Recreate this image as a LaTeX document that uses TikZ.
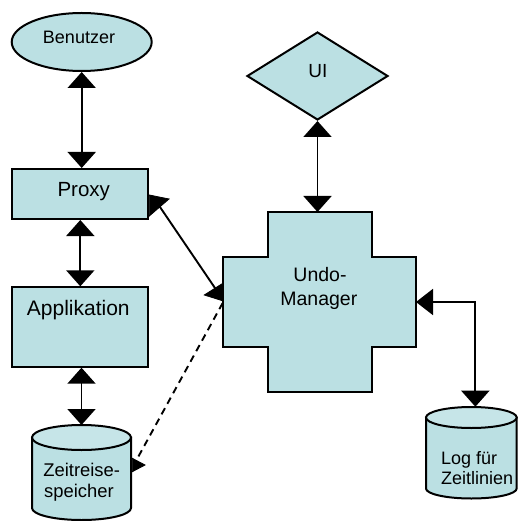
\documentclass[tikz,border=0pt]{standalone}
\usepackage{fontspec}
\setmainfont{Liberation Sans}
\usetikzlibrary{arrows.meta,shapes.geometric}

\definecolor{boxfill}{HTML}{BBE0E3}
\definecolor{capfill}{HTML}{C6E5E8}
\newcommand\fsz[1]{\fontsize{#1pt}{#1pt}\selectfont}

\tikzset{
  shapebox/.style={draw=black, fill=boxfill, line width=2pt},
  anchorbox/.style={rectangle, inner sep=0pt, outer sep=0pt},
  link/.style={line width=1.9pt, draw=black},
  BigTip/.tip={Triangle[width=28pt,length=16pt]},
  SideTip/.tip={Triangle[width=26pt,length=17pt]},
  label/.style={anchor=base, inner sep=0pt, text=black},
  headfill/.style={fill=black, draw=black, line width=0.8pt, line join=miter},
}

\begin{document}
\begin{tikzpicture}[x=1pt, y=-1pt]
\useasboundingbox (0,0) rectangle (517,521);

% --- shapes ---
\node[ellipse, shapebox, minimum width=140pt, minimum height=58pt, inner sep=0pt] (benutzer) at (81.7,42) {};
\node[rectangle, shapebox, minimum width=136pt, minimum height=50pt, inner sep=0pt] (proxy) at (80.3,194) {};
\node[rectangle, shapebox, minimum width=136pt, minimum height=79.4pt, inner sep=0pt] (appl) at (80.3,327) {};
\node[diamond, shapebox, minimum width=141pt, minimum height=88pt, inner sep=0pt] (ui) at (317.5,76) {};

% Undo-Manager: cross shape with an invisible box for anchors
\node[anchorbox, minimum width=193.3pt, minimum height=180pt] (undo) at (319.35,302) {};
\draw[shapebox] (267.7,212) -- (371.7,212) -- (371.7,257) -- (416,257) -- (416,347)
  -- (371.7,347) -- (371.7,392) -- (267.7,392) -- (267.7,347) -- (222.7,347)
  -- (222.7,257) -- (267.7,257) -- cycle;

% cylinders: body, then the lighter top ellipse
\node[anchorbox, minimum width=99pt, minimum height=95pt] (zeit) at (81.5,472.5) {};
\draw[shapebox] (32,437.5) -- (32,508) arc[start angle=180, end angle=360, x radius=49.5pt, y radius=12pt]
  -- (131,437.5) -- cycle;
\draw[shapebox, fill=capfill] (81.5,437.5) ellipse [x radius=49.5pt, y radius=12.5pt];

\node[anchorbox, minimum width=90.7pt, minimum height=91.6pt] (log) at (471.35,452.5) {};
\draw[shapebox] (426,417.5) -- (426,488.5) arc[start angle=180, end angle=360, x radius=45.35pt, y radius=10pt]
  -- (516.7,417.5) -- cycle;
\draw[shapebox, fill=capfill] (471.35,417.5) ellipse [x radius=45.35pt, y radius=10.5pt];

% --- texts ---
\node[label, font=\fsz{18}] (tbenutzer) at (79,43.3) {Benutzer};
\node[label, font=\fsz{20.5}] (tproxy) at (83.7,196.7) {Proxy};
\node[label, font=\fsz{21}] (tappl) at (78.3,315) {Applikation};
\node[label, font=\fsz{19}] (tui) at (317.8,78) {UI};
\node[label, font=\fsz{19.5}] (tundoa) at (320,281) {Undo-};
\node[label, font=\fsz{19.5}] (tundob) at (318.8,305.7) {Manager};
\node[label, font=\fsz{18.4}] (tzeita) at (81.7,476) {Zeitreise-};
\node[label, font=\fsz{18.4}] (tzeitb) at (79,497) {speicher};
\node[label, font=\fsz{18}, anchor=base west] (tloga) at (441,464) {Log für};
\node[label, font=\fsz{18}, anchor=base west] (tlogb) at (441,484) {Zeitlinien};

% --- connectors ---
\draw[link, BigTip-BigTip] (benutzer.south) -- (proxy.north -| benutzer.south);
\draw[link, BigTip-BigTip] (proxy.south) -- (appl.north);
\draw[link, BigTip-BigTip] (appl.south -| zeit.north) -- (zeit.north);
\draw[link, BigTip-BigTip] (ui.south) -- (ui.south |- undo.north);
\draw[link, SideTip-BigTip] (undo.east) -| ([xshift=4pt]log.north);

% Proxy -- Undo-Manager
\coordinate (pu1) at ([shift={(10,12)}]proxy.east);
\coordinate (pu2) at ([shift={(-5,-10)}]undo.west);
\draw[link] (pu1) -- (pu2);
\filldraw[headfill] ([shift={(0,1)}]proxy.east) -- ([shift={(19.7,5)}]proxy.east)
  -- ([shift={(0,22)}]proxy.east) -- cycle;
\filldraw[headfill] ([shift={(0.6,-19)}]undo.west) -- ([shift={(-18.4,-7)}]undo.west)
  -- ([shift={(0.6,-1)}]undo.west) -- cycle;

% Undo-Manager -- Zeitreisespeicher (dashed)
\coordinate (uz1) at ([shift={(0,1)}]undo.west);
\coordinate (uz2) at ([shift={(7.3,-15.8)}]zeit.east);
\draw[link, dash pattern=on 7pt off 5pt] (uz1) -- (uz2);
\filldraw[headfill] ([shift={(1.3,-14.2)}]zeit.east) -- ([shift={(14,-7.5)}]zeit.east)
  -- ([shift={(1.3,-0.8)}]zeit.east) -- cycle;
\end{tikzpicture}
\end{document}
